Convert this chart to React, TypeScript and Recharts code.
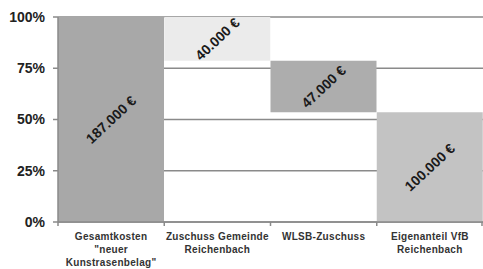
import { Bar, BarChart, CartesianGrid, Cell, LabelList, XAxis, YAxis } from 'recharts'

const categories = [
  ['Gesamtkosten', '"neuer', 'Kunstrasenbelag"'],
  ['Zuschuss Gemeinde', 'Reichenbach'],
  ['WLSB-Zuschuss'],
  ['Eigenanteil VfB', 'Reichenbach'],
]
const amounts = [187000, 40000, 47000, 100000]
const barColors = ['#a8a8a8', '#ebebeb', '#adadad', '#c3c3c3']
const yTicks = [0, 25, 50, 75, 100]

const total = amounts[0]

const CHART_W = 483
const Y_AXIS_W = 58
const BAND = (CHART_W - Y_AXIS_W) / categories.length

// waterfall: first bar is the total, the rest step down from the top
const chartData = amounts.map((amount, i) => {
  let base = 0
  if (i > 0) {
    const used = amounts.slice(1, i + 1).reduce((a, b) => a + b, 0)
    base = ((total - used) / total) * 100
  }
  return {
    key: String(i),
    base,
    value: (amount / total) * 100,
    amount,
  }
})

const formatEuro = (v: number) =>
  String(v).replace(/\B(?=(\d{3})+(?!\d))/g, '.') + ' €'

const FONT = '"Liberation Sans", Arial, sans-serif'

function CategoryTick(props: any) {
  const { x, y, payload, index } = props
  const lines = categories[Number(payload.value)] || []
  const axisY = y - 8
  const last = index === categories.length - 1
  return (
    <g>
      <line x1={x - BAND / 2} x2={x - BAND / 2} y1={axisY} y2={axisY + 4} stroke="#8a8a8a" strokeWidth={1.5} />
      {last && (
        <line x1={x + BAND / 2 - 1} x2={x + BAND / 2 - 1} y1={axisY} y2={axisY + 4} stroke="#8a8a8a" strokeWidth={1.5} />
      )}
      {lines.map((line, i) => (
        <text
          key={i}
          x={x}
          y={y + 10 + i * 13}
          textAnchor="middle"
          fontFamily={FONT}
          fontSize={10}
          fontWeight="bold"
          letterSpacing={0.3}
          fill="#333"
        >
          {line}
        </text>
      ))}
    </g>
  )
}

function RotatedLabel(props: any) {
  const { x, y, width, height, index } = props
  const cx = x + width / 2
  const cy = y + height / 2
  return (
    <text
      x={cx}
      y={cy}
      textAnchor="middle"
      dominantBaseline="central"
      transform={`rotate(-43 ${cx} ${cy})`}
      fontFamily={FONT}
      fontSize={14}
      fontWeight="bold"
      fill="#1a1a1a"
    >
      {formatEuro(amounts[index])}
    </text>
  )
}

export default function App() {
  return (
    <div style={{ position: 'absolute', left: 0, top: 0, background: '#fff' }}>
      <BarChart
        width={CHART_W}
        height={269}
        data={chartData}
        margin={{ top: 17, right: 0, bottom: 0, left: 0 }}
        barCategoryGap={0}
      >
        <CartesianGrid vertical={false} stroke="#8a8a8a" strokeWidth={1.5} />
        <XAxis
          dataKey="key"
          height={47}
          interval={0}
          tickLine={false}
          axisLine={{ stroke: '#8a8a8a', strokeWidth: 1.5 }}
          tick={<CategoryTick />}
        />
        <YAxis
          width={Y_AXIS_W}
          domain={[0, 100]}
          ticks={yTicks}
          tickFormatter={(v) => `${v}%`}
          tickSize={5}
          tickMargin={8}
          axisLine={{ stroke: '#8a8a8a', strokeWidth: 1.5 }}
          tickLine={{ stroke: '#8a8a8a', strokeWidth: 1.5 }}
          tick={{ fontFamily: FONT, fontSize: 14, fontWeight: 'bold', fill: '#222' }}
        />
        <Bar dataKey="base" stackId="a" fill="transparent" isAnimationActive={false} />
        <Bar dataKey="value" stackId="a" isAnimationActive={false}>
          {chartData.map((d, i) => (
            <Cell key={d.key} fill={barColors[i]} />
          ))}
          <LabelList dataKey="value" content={<RotatedLabel />} />
        </Bar>
      </BarChart>
    </div>
  )
}
